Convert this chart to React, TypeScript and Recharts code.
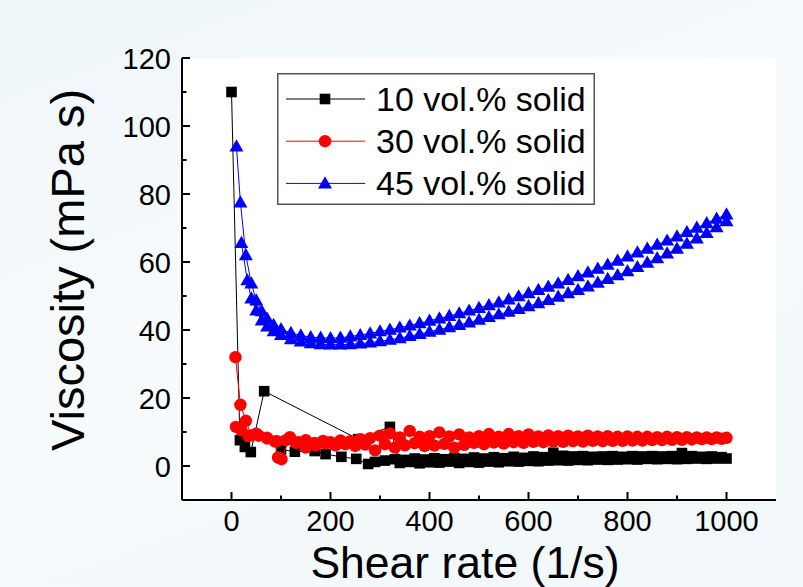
import React from 'react';
import { ScatterChart, Scatter, XAxis, YAxis, CartesianGrid, Legend, Label } from 'recharts';

const FONT = '"Liberation Sans", Arial, Helvetica, sans-serif';

// axis ticks (majors carry labels)
const xTicks = [0, 100, 200, 300, 400, 500, 600, 700, 800, 900, 1000];
const yTicks = [0, 10, 20, 30, 40, 50, 60, 70, 80, 90, 100, 110, 120];

const seriesNames = ['10 vol.% solid', '30 vol.% solid', '45 vol.% solid'];
const seriesColors = ['#000000', '#ff0000', '#0000ff'];

// 10 vol.% : ramp up then ramp down
const rate10 = [
  0, 17, 27, 39, 66, 256, 320,
  340, 360, 380, 400, 420, 440, 460, 480, 500, 520, 540, 560, 580, 600, 620, 640, 660, 680, 700,
  720, 740, 760, 780, 800, 820, 840, 860, 880, 900, 920, 940, 960, 980, 1000,
  990, 970, 950, 930, 910, 890, 870, 850, 830, 810, 790, 770, 750, 730, 710, 690, 670, 650, 630,
  610, 590, 570, 550, 530, 510, 490, 470, 450, 430, 410, 390, 370, 350, 330, 310,
  290, 276, 252, 222, 190, 168, 128, 100,
];
const visc10 = [
  110, 7.6, 5.6, 4.1, 22, 7.9, 11.5,
  0.9, 1.2, 0.8, 1.1, 1.0, 1.3, 0.9, 1.2, 1.0, 1.3, 1.1, 1.4, 1.3, 1.5, 1.4, 1.6, 1.7, 1.6, 1.8,
  1.7, 1.9, 1.8, 1.9, 2.0, 1.9, 2.1, 2.0, 2.1, 2.0, 2.1, 2.2, 2.1, 2.2, 2.2,
  2.6, 2.8, 2.7, 2.9, 3.8, 2.9, 2.8, 2.9, 2.8, 2.9, 2.7, 2.9, 2.8, 2.7, 2.9, 2.8, 3.0, 3.9, 2.6,
  2.8, 2.4, 2.7, 2.3, 2.6, 2.2, 2.5, 2.1, 2.4, 2.0, 2.3, 1.9, 2.2, 1.8, 2.0, 1.6,
  1.2, 0.6, 2.1, 2.7, 3.5, 4.4, 4.2, 4.9,
];

// 30 vol.%
const rate30 = [
  8, 18, 29, 40, 55, 72, 88, 94, 101, 118, 135, 150, 168, 185, 200, 220, 240, 260, 280, 300,
  320, 340, 360, 380, 400, 420, 440, 460, 480, 500, 520, 540, 560, 580, 600, 620, 640, 660, 680, 700,
  720, 740, 760, 780, 800, 820, 840, 860, 880, 900, 920, 940, 960, 980, 1000,
  990, 970, 950, 930, 910, 890, 870, 850, 830, 810, 790, 770, 750, 730, 710, 690, 670, 650, 630, 610,
  590, 570, 550, 530, 510, 490, 470, 450, 430, 410, 390, 370, 350, 330, 310,
  290, 270, 250, 230, 210, 190, 170, 150, 130, 110, 92, 72, 50, 34, 20, 9,
];
const visc30 = [
  32, 18, 13.3, 9.0, 8.9, 8.1, 7.2, 2.5, 2.0, 8.5, 7.0, 7.6, 6.8, 7.4, 7.0, 7.5, 7.3, 7.9, 8.2, 8.9,
  9.6, 8.4, 10.3, 8.6, 8.8, 9.9, 8.7, 9.3, 8.4, 8.8, 9.4, 8.6, 9.4, 8.8, 9.3, 8.7, 9.0, 8.8, 8.9, 8.7,
  8.9, 8.7, 8.8, 8.6, 8.7, 8.6, 8.6, 8.5, 8.6, 8.5, 8.5, 8.4, 8.4, 8.4, 8.3,
  8.0, 7.9, 7.9, 7.8, 7.7, 7.7, 7.6, 7.6, 7.5, 7.5, 7.4, 7.4, 7.3, 7.4, 7.2, 7.3, 7.1, 7.2, 7.0, 7.1,
  6.8, 7.0, 6.6, 6.9, 6.4, 6.8, 6.2, 5.4, 6.5, 6.0, 5.9, 6.7, 6.1, 5.4, 6.4,
  4.6, 6.3, 5.9, 6.4, 6.1, 6.6, 6.0, 5.4, 6.8, 7.6, 7.3, 8.3, 9.5, 8.8, 10.5, 11.5,
];

// 45 vol.%
const rate45 = [
  10, 18, 29, 40, 50, 61, 72, 85, 100, 120, 140, 160, 180,
  200, 220, 240, 260, 280, 300, 320, 340, 360, 380, 400, 420, 440, 460, 480, 500, 520, 540, 560, 580,
  600, 620, 640, 660, 680, 700, 720, 740, 760, 780, 800, 820, 840, 860, 880, 900, 920, 940, 960, 980, 1000,
  1000, 980, 960, 940, 920, 900, 880, 860, 840, 820, 800, 780, 760, 740, 720, 700, 680, 660, 640, 620,
  600, 580, 560, 540, 520, 500, 480, 460, 440, 420, 400, 380, 360, 340, 320, 300, 280, 260, 240, 220, 200,
  180, 160, 140, 120, 100, 85, 72, 61, 50, 40, 32, 20,
];
const visc45 = [
  94, 77.5, 62, 53.7, 48.7, 45.5, 43.3, 41.5, 40.2, 39.1, 38.4, 37.9, 37.7,
  37.6, 37.7, 38.1, 38.5, 39.0, 39.6, 40.1, 40.7, 41.3, 42.0, 42.7, 43.4, 44.1, 44.9, 45.7, 46.5, 47.3, 48.1, 49.0, 49.9,
  50.8, 51.8, 52.7, 53.7, 54.7, 55.8, 56.9, 58.0, 59.2, 60.4, 61.6, 62.8, 63.9, 65.1, 66.3, 67.5, 68.8, 70.1, 71.4, 72.7, 74.0,
  72.0, 70.2, 68.5, 66.9, 65.4, 63.9, 62.5, 61.1, 59.8, 58.5, 57.3, 56.1, 55.0, 53.9, 52.8, 51.8, 50.8, 49.8, 48.8, 47.9,
  47.0, 46.2, 45.4, 44.6, 43.8, 43.0, 42.2, 41.5, 40.8, 40.1, 39.5, 38.8, 38.2, 37.6, 37.1, 36.7, 36.3, 36.0, 35.8, 35.7, 35.7,
  35.8, 36.1, 36.6, 37.3, 38.5, 39.6, 41.0, 42.8, 45.7, 49.3, 54.6, 65.6,
];

const toPoints = (xs: number[], ys: number[]) => xs.map((x, i) => ({ x, y: ys[i] }));
const data10 = toPoints(rate10, visc10);
const data30 = toPoints(rate30, visc30);
const data45 = toPoints(rate45, visc45);

const Square = (p: any) => <rect x={p.cx - 5.3} y={p.cy - 5.3} width={10.6} height={10.6} fill={p.fill} />;
const Dot = (p: any) => <circle cx={p.cx} cy={p.cy} r={6.2} fill={p.fill} />;
const Tri = (p: any) => (
  <polygon points={`${p.cx},${p.cy - 7.2} ${p.cx - 7},${p.cy + 5} ${p.cx + 7},${p.cy + 5}`} fill={p.fill} />
);
const shapes = [Square, Dot, Tri];

type Side = 'bottom' | 'top' | 'left' | 'right';

const makeTick = (side: Side, majorStep: number, withLabel: boolean) => (props: any) => {
  const { x, y, payload } = props;
  const v = payload.value;
  const major = v % majorStep === 0;
  const len = major ? 8 : 4.5;
  let x2 = x;
  let y2 = y;
  if (side === 'bottom') y2 = y - len;
  if (side === 'top') y2 = y + len;
  if (side === 'left') x2 = x + len;
  if (side === 'right') x2 = x - len;
  return (
    <g>
      <line x1={x} y1={y} x2={x2} y2={y2} stroke="#000" strokeWidth={2} />
      {withLabel && major && side === 'bottom' && (
        <text x={x} y={y + 31} textAnchor="middle" fontSize={29} fontFamily={FONT} fill="#000">{v}</text>
      )}
      {withLabel && major && side === 'left' && (
        <text x={x - 11} y={y + 10.5} textAnchor="end" fontSize={29} fontFamily={FONT} fill="#000">{v}</text>
      )}
    </g>
  );
};

const LegendBox = ({ payload }: any) => {
  const items = (payload || []) as any[];
  return (
    <svg width={318} height={132} style={{ display: 'block' }}>
      <rect x={0.75} y={0.75} width={316.5} height={130.5} fill="#fff" stroke="#555" strokeWidth={1.5} />
      {items.map((it, i) => {
        const cy = 26 + i * 42.2;
        const Shape = shapes[i];
        return (
          <g key={it.value}>
            <line x1={9} y1={cy} x2={88} y2={cy} stroke={it.color} strokeWidth={1} />
            <Shape cx={48} cy={cy} fill={it.color} />
            <text x={99} y={cy + 12} fontSize={34} fontFamily={FONT} fill="#000">{it.value}</text>
          </g>
        );
      })}
    </svg>
  );
};

const frame = { stroke: '#000', strokeWidth: 2 };

export default function App() {
  return (
    <div
      style={{
        position: 'absolute',
        left: 0,
        top: 0,
        width: 803,
        height: 587,
        overflow: 'hidden',
        background: 'linear-gradient(160deg, #eef6fa 0%, #f7fbfd 45%, #f1f7fa 100%)',
      }}
    >
      <ScatterChart width={803} height={587} margin={{ top: 58, right: 27, bottom: 0, left: 0 }}>
        <CartesianGrid horizontal={false} vertical={false} fill="#ffffff" />
        <XAxis
          dataKey="x"
          type="number"
          domain={[-100, 1100]}
          ticks={xTicks}
          interval={0}
          height={87}
          tickSize={0}
          tickMargin={0}
          tickLine={false}
          axisLine={frame}
          tick={makeTick('bottom', 200, true)}
          allowDataOverflow
        >
          <Label
            content={({ viewBox }: any) => (
              <text
                x={viewBox.x + viewBox.width / 2 - 14}
                y={viewBox.y + 78}
                textAnchor="middle"
                fontSize={44.5}
                fontFamily={FONT}
                fill="#000"
              >
                Shear rate (1/s)
              </text>
            )}
          />
        </XAxis>
        <XAxis
          xAxisId="top"
          orientation="top"
          type="number"
          domain={[-100, 1100]}
          ticks={xTicks}
          interval={0}
          height={0}
          tickSize={0}
          tickMargin={0}
          tickLine={false}
          axisLine={frame}
          tick={makeTick('top', 200, false)}
          allowDataOverflow
        />
        <YAxis
          dataKey="y"
          type="number"
          domain={[-10, 120]}
          ticks={yTicks}
          interval={0}
          width={182}
          tickSize={0}
          tickMargin={0}
          tickLine={false}
          axisLine={frame}
          tick={makeTick('left', 20, true)}
          allowDataOverflow
        >
          <Label
            content={({ viewBox }: any) => {
              const cx = 84;
              const cy = viewBox.y + viewBox.height / 2 - 9;
              return (
                <text
                  x={cx}
                  y={cy}
                  transform={`rotate(-90 ${cx} ${cy})`}
                  textAnchor="middle"
                  fontSize={47}
                  fontFamily={FONT}
                  fill="#000"
                >
                  Viscosity (mPa s)
                </text>
              );
            }}
          />
        </YAxis>
        <YAxis
          yAxisId="right"
          orientation="right"
          type="number"
          domain={[-10, 120]}
          ticks={yTicks}
          interval={0}
          width={0}
          tickSize={0}
          tickMargin={0}
          tickLine={false}
          axisLine={frame}
          tick={makeTick('right', 20, false)}
          allowDataOverflow
        />
        <Legend
          layout="horizontal"
          verticalAlign="middle"
          align="center"
          wrapperStyle={{ left: 277, top: 73, width: 318, height: 132 }}
          content={LegendBox}
        />
        <Scatter
          name={seriesNames[0]}
          data={data10}
          fill={seriesColors[0]}
          line={{ stroke: seriesColors[0], strokeWidth: 1 }}
          shape={Square}
          isAnimationActive={false}
        />
        <Scatter
          name={seriesNames[1]}
          data={data30}
          fill={seriesColors[1]}
          line={{ stroke: seriesColors[1], strokeWidth: 1 }}
          shape={Dot}
          isAnimationActive={false}
        />
        <Scatter
          name={seriesNames[2]}
          data={data45}
          fill={seriesColors[2]}
          line={{ stroke: seriesColors[2], strokeWidth: 1 }}
          shape={Tri}
          isAnimationActive={false}
        />
      </ScatterChart>
    </div>
  );
}
